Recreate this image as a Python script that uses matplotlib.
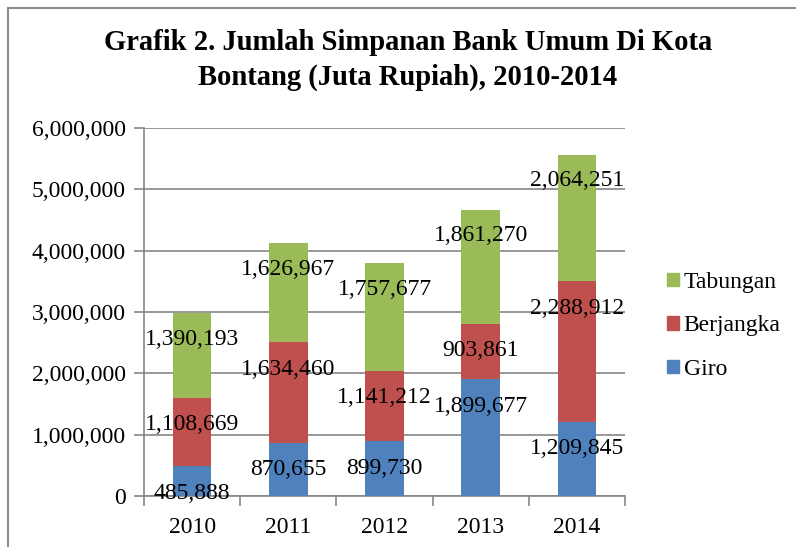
import matplotlib
matplotlib.use("Agg")
import matplotlib.pyplot as plt
from matplotlib.patches import Patch
from matplotlib.lines import Line2D
import numpy as np

years = ["2010", "2011", "2012", "2013", "2014"]
giro = [485888, 870655, 899730, 1899677, 1209845]
berjangka = [1108669, 1634460, 1141212, 903861, 2288912]
tabungan = [1390193, 1626967, 1757677, 1861270, 2064251]
yticks = [0, 1000000, 2000000, 3000000, 4000000, 5000000, 6000000]

# label vertical shifts relative to segment centre (as drawn in the reference)
shift_giro = [-199000, 0, 0, 517000, 172000]
shift_berj = [118000, 378000, 139000, 28000, 706000]
shift_tab = [265000, 377000, 439000, 505000, 610000]

blue, red, green = "#4F81BD", "#C0504D", "#9BBB59"
grid_c = "#868686"

plt.rcParams['font.family'] = ['Liberation Serif', 'DejaVu Serif']

fig = plt.figure(figsize=(7.96, 5.47), dpi=100)
W, H = 796, 547
ax = fig.add_axes([144 / W, 1 - 496 / H, (625 - 144) / W, (496 - 128) / H])

x = np.arange(len(years))
g = np.array(giro); b = np.array(berjangka); t = np.array(tabungan)
ax.bar(x, g, width=0.4, color=blue, zorder=3)
ax.bar(x, b, bottom=g, width=0.4, color=red, zorder=3)
ax.bar(x, t, bottom=g + b, width=0.4, color=green, zorder=3)

fs = 17
for i in range(len(years)):
    ax.text(x[i], g[i] / 2 + shift_giro[i], f"{giro[i]:,}", ha="center", va="center", fontsize=fs, zorder=5)
    ax.text(x[i], g[i] + b[i] / 2 + shift_berj[i], f"{berjangka[i]:,}", ha="center", va="center", fontsize=fs, zorder=5)
    ax.text(x[i], g[i] + b[i] + t[i] / 2 + shift_tab[i], f"{tabungan[i]:,}", ha="center", va="center", fontsize=fs, zorder=5)

ax.set_xlim(-0.5, len(years) - 0.5)
ax.set_ylim(0, 6000000)
ax.set_yticks(yticks)
ax.set_yticklabels([f"{v:,}" for v in yticks], fontsize=fs)
ax.set_xticks(x)
ax.set_xticklabels(years, fontsize=fs)
ax.tick_params(axis="x", length=0, pad=15)
ax.set_xticks(np.arange(-0.5, len(years)), minor=True)
ax.tick_params(axis="x", which="minor", length=7, color=grid_c, width=1.2)
ax.tick_params(axis="y", length=7, color=grid_c, width=1.2, pad=6)
ax.grid(axis="y", color=grid_c, linewidth=1.2, zorder=0)
for s in ["top", "right"]:
    ax.spines[s].set_visible(False)
for s in ["left", "bottom"]:
    ax.spines[s].set_color(grid_c)
    ax.spines[s].set_linewidth(1.2)

handles = [Patch(color=green, label="Tabungan"), Patch(color=red, label="Berjangka"), Patch(color=blue, label="Giro")]
fig.legend(handles=handles, loc="center left", bbox_to_anchor=(667 / W, 1 - 326 / H),
           frameon=False, fontsize=fs, handlelength=0.5, handleheight=0.5,
           handletextpad=0.2, labelspacing=0.95, borderpad=0, borderaxespad=0)

fig.text(0.5 * (103 + 713) / W, 1 - 43 / H, "Grafik 2. Jumlah Simpanan Bank Umum Di Kota",
         ha="center", va="center", fontsize=20.6, fontweight="bold")
fig.text(0.5 * (103 + 713) / W, 1 - 77 / H, "Bontang (Juta Rupiah), 2010-2014",
         ha="center", va="center", fontsize=20.6, fontweight="bold")

# outer chart frame
fig.add_artist(Line2D([8 / W, 8 / W], [0, 1 - 8 / H], transform=fig.transFigure, color="#8c8c8c", linewidth=1.5))
fig.add_artist(Line2D([8 / W, 1], [1 - 8 / H, 1 - 8 / H], transform=fig.transFigure, color="#8c8c8c", linewidth=1.5))

fig.savefig("out.png", dpi=100)
